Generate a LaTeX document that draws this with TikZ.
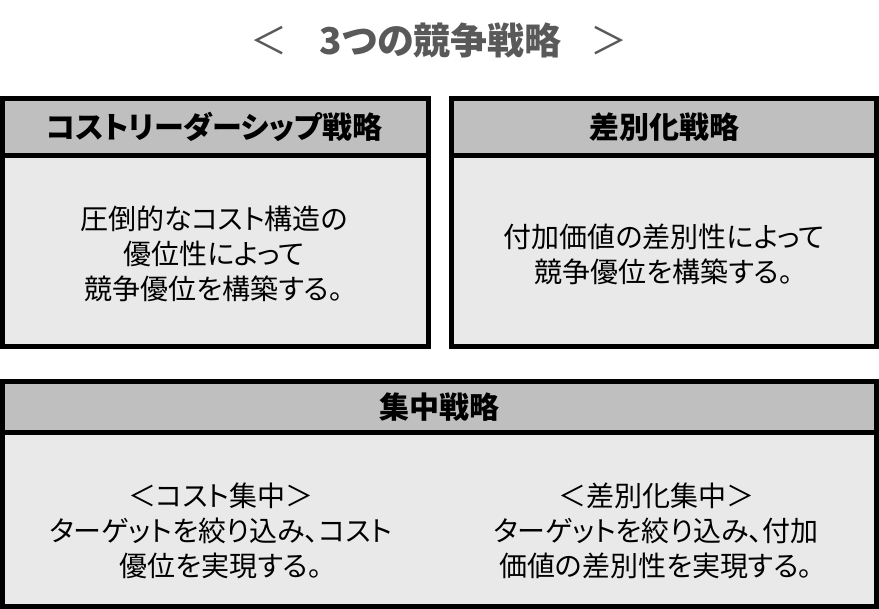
\documentclass[tikz,border=0pt]{standalone}
\usepackage{fontspec}
\setmainfont{Noto Sans CJK JP}[RawFeature=+palt]
\definecolor{hdrgray}{HTML}{BFBFBF}
\definecolor{bodygray}{HTML}{E9E9E9}
\definecolor{titlegray}{HTML}{595959}
\tikzset{
  hdrbox/.style={fill=hdrgray, draw=black, line width=5pt},
  bodybox/.style={fill=bodygray, draw=black, line width=5pt},
  hdrtext/.style={font=\fontsize{30}{36}\selectfont\bfseries, anchor=center},
  bodytext/.style={font=\fontsize{28}{35}\selectfont, align=center, anchor=center},
}
\begin{document}
\begin{tikzpicture}[x=1pt,y=1pt]
\useasboundingbox (0,0) rectangle (879,609);
% title
\node[font=\fontsize{37}{42}\selectfont, text=titlegray] (title) at (439,569) {＜\hspace{32pt}{\bfseries 3つの競争戦略}\hspace{29pt}＞};
% box 1
\draw[bodybox] (2.5,262.5) rectangle (428.5,453);
\draw[hdrbox] (2.5,453) rectangle (428.5,510.5);
\node[hdrtext] (h1) at (214,482) {コストリーダーシップ戦略};
\node[bodytext] (b1) at (214,355) {圧倒的なコスト構造の\\優位性によって\\競争優位を構築する。};
% box 2
\draw[bodybox] (451.5,262.5) rectangle (876.5,453);
\draw[hdrbox] (451.5,453) rectangle (876.5,510.5);
\node[hdrtext] (h2) at (664,482) {差別化戦略};
\node[bodytext] (b2) at (664,355) {付加価値の差別性によって\\競争優位を構築する。};
% box 3
\draw[bodybox] (2.5,2.5) rectangle (876.5,176.5);
\draw[hdrbox] (2.5,176.5) rectangle (876.5,227.5);
\node[hdrtext] (h3) at (439.5,202) {集中戦略};
\node[bodytext] (b3) at (221,78) {＜コスト集中＞\\ターゲットを絞り込み、コスト\\優位を実現する。};
\node[bodytext] (b4) at (656,78) {＜差別化集中＞\\ターゲットを絞り込み、付加\\価値の差別性を実現する。};
\end{tikzpicture}
\end{document}
